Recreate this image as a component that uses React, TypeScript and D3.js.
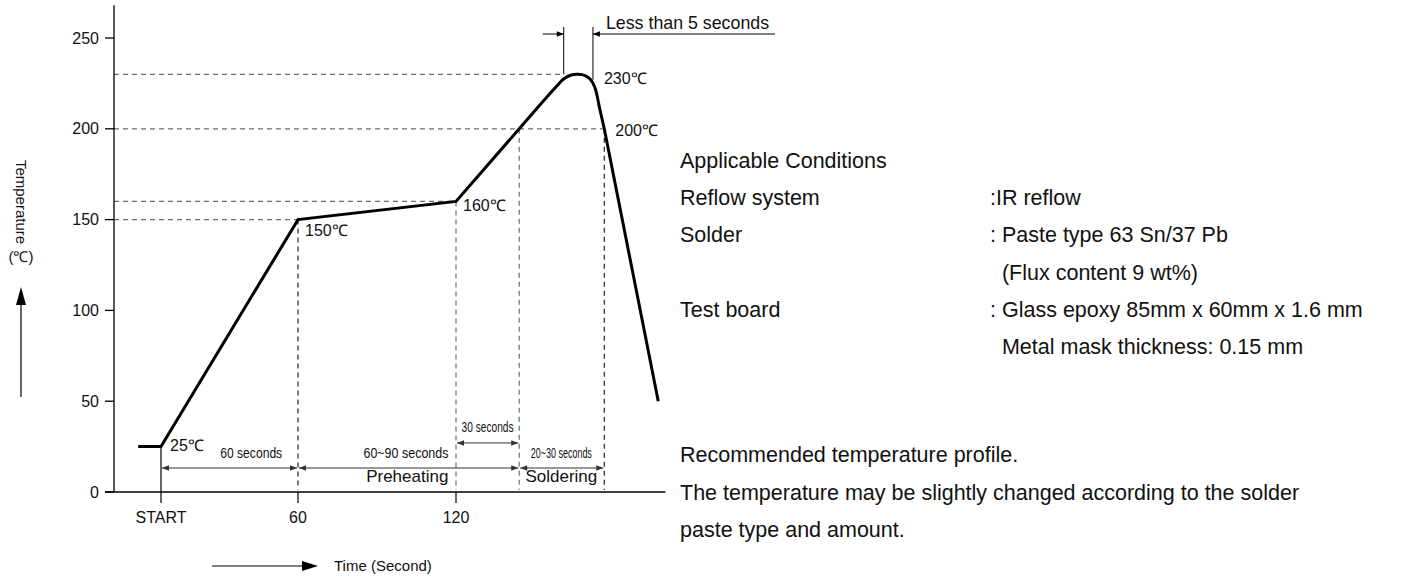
import React from "react";
import * as d3 from "d3";

// ---- data ----
const yTicks = [0, 50, 100, 150, 200, 250];
const xTicks = [0, 60, 120];
const xTickLabels = ["START", "60", "120"];

// temperature profile (time s, temp °C)
const profileRamp: [number, number][] = [
  [-10, 25],
  [0, 25],
  [60, 150],
  [120, 160],
  [144, 200],
  [153, 215],
];
const profilePeak: [number, number][] = [
  [153, 215],
  [157.5, 222.3],
  [161, 227.6],
  [163.8, 229.6],
  [166.4, 230],
  [169, 229.3],
  [171, 227.3],
  [172.8, 222.5],
  [174.5, 211.5],
  [176.3, 200],
];
const profileCool: [number, number][] = [
  [176.3, 200],
  [196.8, 50],
];

// guide lines
const hGuides = [
  { temp: 230, tEnd: 160.9 },
  { temp: 200, tEnd: 176.3 },
  { temp: 160, tEnd: 120 },
  { temp: 150, tEnd: 60 },
];
const vGuides = [
  { t: 60, temp: 150, dark: true },
  { t: 120, temp: 160, dark: false },
  { t: 144, temp: 200, dark: false },
  { t: 176.3, temp: 200, dark: true },
];
const pointLabels = [
  { t: 0, temp: 25, text: "25℃", dx: 9, dy: 4 },
  { t: 60, temp: 150, text: "150℃", dx: 7, dy: 16 },
  { t: 120, temp: 160, text: "160℃", dx: 7, dy: 10 },
  { t: 176.3, temp: 200, text: "200℃", dx: 11, dy: 7 },
  { t: 172, temp: 230, text: "230℃", dx: 11, dy: 10 },
];
const spans = [
  { from: 0, to: 60, temp: 13.2, text: "60 seconds", len: 62, tx: 39.5, ty: 18.5 },
  { from: 60, to: 144, temp: 13.2, text: "60~90 seconds", len: 85, tx: 101, ty: 18.5 },
  { from: 120, to: 144, temp: 27, text: "30 seconds", len: 52, tx: 132, ty: 33 },
  { from: 144, to: 176.3, temp: 13.2, text: "20~30 seconds", len: 61, tx: 160, ty: 18.5 },
];
const phaseLabels = [
  { t: 101.5, temp: 5.5, text: "Preheating" },
  { t: 160, temp: 5.5, text: "Soldering" },
];
const peakWindow = { t0: 160.9, t1: 172, text: "Less than 5 seconds" };

const conditionRows = [
  { label: "Applicable Conditions", value: "" },
  { label: "Reflow system", value: ":IR reflow" },
  { label: "Solder", value: ": Paste type 63 Sn/37 Pb" },
  { label: "", value: "  (Flux content 9 wt%)" },
  { label: "Test board", value: ": Glass epoxy 85mm x 60mm x 1.6 mm" },
  { label: "", value: "  Metal mask thickness: 0.15 mm" },
];
const noteRows = [
  "Recommended temperature profile.",
  "The temperature may be slightly changed according to the solder",
  "paste type and amount.",
];

const FONT = "'Liberation Sans', Arial, Helvetica, sans-serif";

function arrowHead(x: number, y: number, dir: "l" | "r" | "u", len = 7, half = 2.8) {
  if (dir === "r") return `M${x},${y}L${x - len},${y - half}L${x - len},${y + half}Z`;
  if (dir === "l") return `M${x},${y}L${x + len},${y - half}L${x + len},${y + half}Z`;
  return `M${x},${y}L${x - half},${y + len}L${x + half},${y + len}Z`;
}

export default function App() {
  const x = d3.scaleLinear().domain([0, 60, 120, 200]).range([161, 298, 456, 666.7]);
  const y = d3.scaleLinear().domain([0, 250]).range([492, 38]);
  const yTop = y(268);
  const x0 = 114;

  const lin = d3.line<[number, number]>().x((d) => x(d[0])).y((d) => y(d[1]));
  const smooth = d3
    .line<[number, number]>()
    .x((d) => x(d[0]))
    .y((d) => y(d[1]))
    .curve(d3.curveCatmullRom.alpha(0.5));
  const pathD = (lin(profileRamp) || "") + (smooth(profilePeak) || "") + (lin(profileCool) || "");

  const gray = "#6e6e6e";
  const textFs = 21.5;
  const rowH = 37.2;
  return (
    <svg
      width={1414}
      height={578}
      style={{ position: "absolute", left: 0, top: 0, background: "#fff" }}
      fontFamily={FONT}
    >
      <rect width={1414} height={578} fill="#fff" />
      {/* guides */}
      {hGuides.map((g, i) => (
        <line
          key={"h" + i}
          x1={x0}
          x2={x(g.tEnd)}
          y1={y(g.temp)}
          y2={y(g.temp)}
          stroke={gray}
          strokeWidth={1.2}
          strokeDasharray="5,4"
        />
      ))}
      {vGuides.map((g, i) => (
        <line
          key={"v" + i}
          x1={x(g.t)}
          x2={x(g.t)}
          y1={y(g.temp)}
          y2={y(0) - 2}
          stroke={g.dark ? "#222" : gray}
          strokeWidth={1.2}
          strokeDasharray="5,4"
        />
      ))}
      {/* axes */}
      <line x1={x0} x2={x0} y1={yTop} y2={y(0)} stroke="#000" strokeWidth={1.3} />
      <line x1={x0 - 9} x2={x(199.5)} y1={y(0)} y2={y(0)} stroke="#000" strokeWidth={1.3} />
      {yTicks.map((t) => (
        <g key={"yt" + t}>
          <line x1={x0 - 9} x2={x0} y1={y(t)} y2={y(t)} stroke="#000" strokeWidth={1.3} />
          <text x={x0 - 15} y={y(t) + 5.5} textAnchor="end" fontSize={16} fill="#111">
            {t}
          </text>
        </g>
      ))}
      {xTicks.map((t, i) => (
        <g key={"xt" + t}>
          <line
            x1={x(t)}
            x2={x(t)}
            y1={i === 0 ? y(25) : y(0)}
            y2={y(0) + 11}
            stroke="#000"
            strokeWidth={1.2}
          />
          <text x={x(t)} y={y(0) + 31} textAnchor="middle" fontSize={16} fill="#111">
            {xTickLabels[i]}
          </text>
        </g>
      ))}
      {/* profile */}
      <path d={pathD} fill="none" stroke="#000" strokeWidth={3} strokeLinejoin="miter" />
      {/* point labels */}
      {pointLabels.map((p, i) => (
        <text key={"pl" + i} x={x(p.t) + p.dx} y={y(p.temp) + p.dy} fontSize={16} fill="#111">
          {p.text}
        </text>
      ))}
      {/* span arrows */}
      {spans.map((s, i) => {
        const a = x(s.from) + 1;
        const b = x(s.to) - 1;
        const yy = y(s.temp);
        return (
          <g key={"sp" + i}>
            <line x1={a} x2={b} y1={yy} y2={yy} stroke="#333" strokeWidth={1} />
            <path d={arrowHead(a, yy, "l")} fill="#333" />
            <path d={arrowHead(b, yy, "r")} fill="#333" />
            <text
              x={x(s.tx)}
              y={y(s.ty)}
              textAnchor="middle"
              fontSize={15}
              textLength={s.len}
              lengthAdjust="spacingAndGlyphs"
              fill="#111"
            >
              {s.text}
            </text>
          </g>
        );
      })}
      {phaseLabels.map((p, i) => (
        <text key={"ph" + i} x={x(p.t)} y={y(p.temp)} textAnchor="middle" fontSize={17} fill="#111">
          {p.text}
        </text>
      ))}
      {/* peak window */}
      {(() => {
        const a = x(peakWindow.t0);
        const b = x(peakWindow.t1);
        const top = 27;
        const yy = 34;
        return (
          <g>
            <line x1={a} x2={a} y1={top} y2={y(230)} stroke="#000" strokeWidth={1} />
            <line x1={b} x2={b} y1={top} y2={y(227)} stroke="#000" strokeWidth={1} />
            <line x1={a - 21} x2={a} y1={yy} y2={yy} stroke="#000" strokeWidth={1} />
            <path d={arrowHead(a, yy, "r")} fill="#000" />
            <line x1={b} x2={775} y1={yy} y2={yy} stroke="#000" strokeWidth={1} />
            <path d={arrowHead(b, yy, "l")} fill="#000" />
            <text x={b + 13} y={yy - 5} fontSize={17.8} fill="#111">
              {peakWindow.text}
            </text>
          </g>
        );
      })()}
      {/* axis titles */}
      <text
        transform={`translate(16, 202) rotate(90)`}
        textAnchor="middle"
        fontSize={15}
        fill="#111"
      >
        Temperature
      </text>
      <text x={21} y={262} textAnchor="middle" fontSize={15} fill="#111">
        (℃)
      </text>
      <line x1={21} x2={21} y1={397} y2={300} stroke="#000" strokeWidth={1.2} />
      <path d={arrowHead(21, 287, "u", 18, 5)} fill="#000" />
      <line x1={212} x2={305} y1={566} y2={566} stroke="#000" strokeWidth={1.2} />
      <path d={arrowHead(318, 566, "r", 16, 5)} fill="#000" />
      <text x={334} y={571} fontSize={15} fill="#111">
        Time (Second)
      </text>
      {/* conditions */}
      {conditionRows.map((r, i) => (
        <g key={"cr" + i}>
          {r.label && (
            <text x={680} y={168 + i * rowH} fontSize={textFs} fill="#111">
              {r.label}
            </text>
          )}
          {r.value && (
            <text x={990} y={168 + i * rowH} fontSize={textFs} fill="#111" style={{ whiteSpace: "pre" }}>
              {r.value}
            </text>
          )}
        </g>
      ))}
      {noteRows.map((r, i) => (
        <text key={"nr" + i} x={680} y={462 + i * 37.5} fontSize={textFs} fill="#111">
          {r}
        </text>
      ))}
    </svg>
  );
}
